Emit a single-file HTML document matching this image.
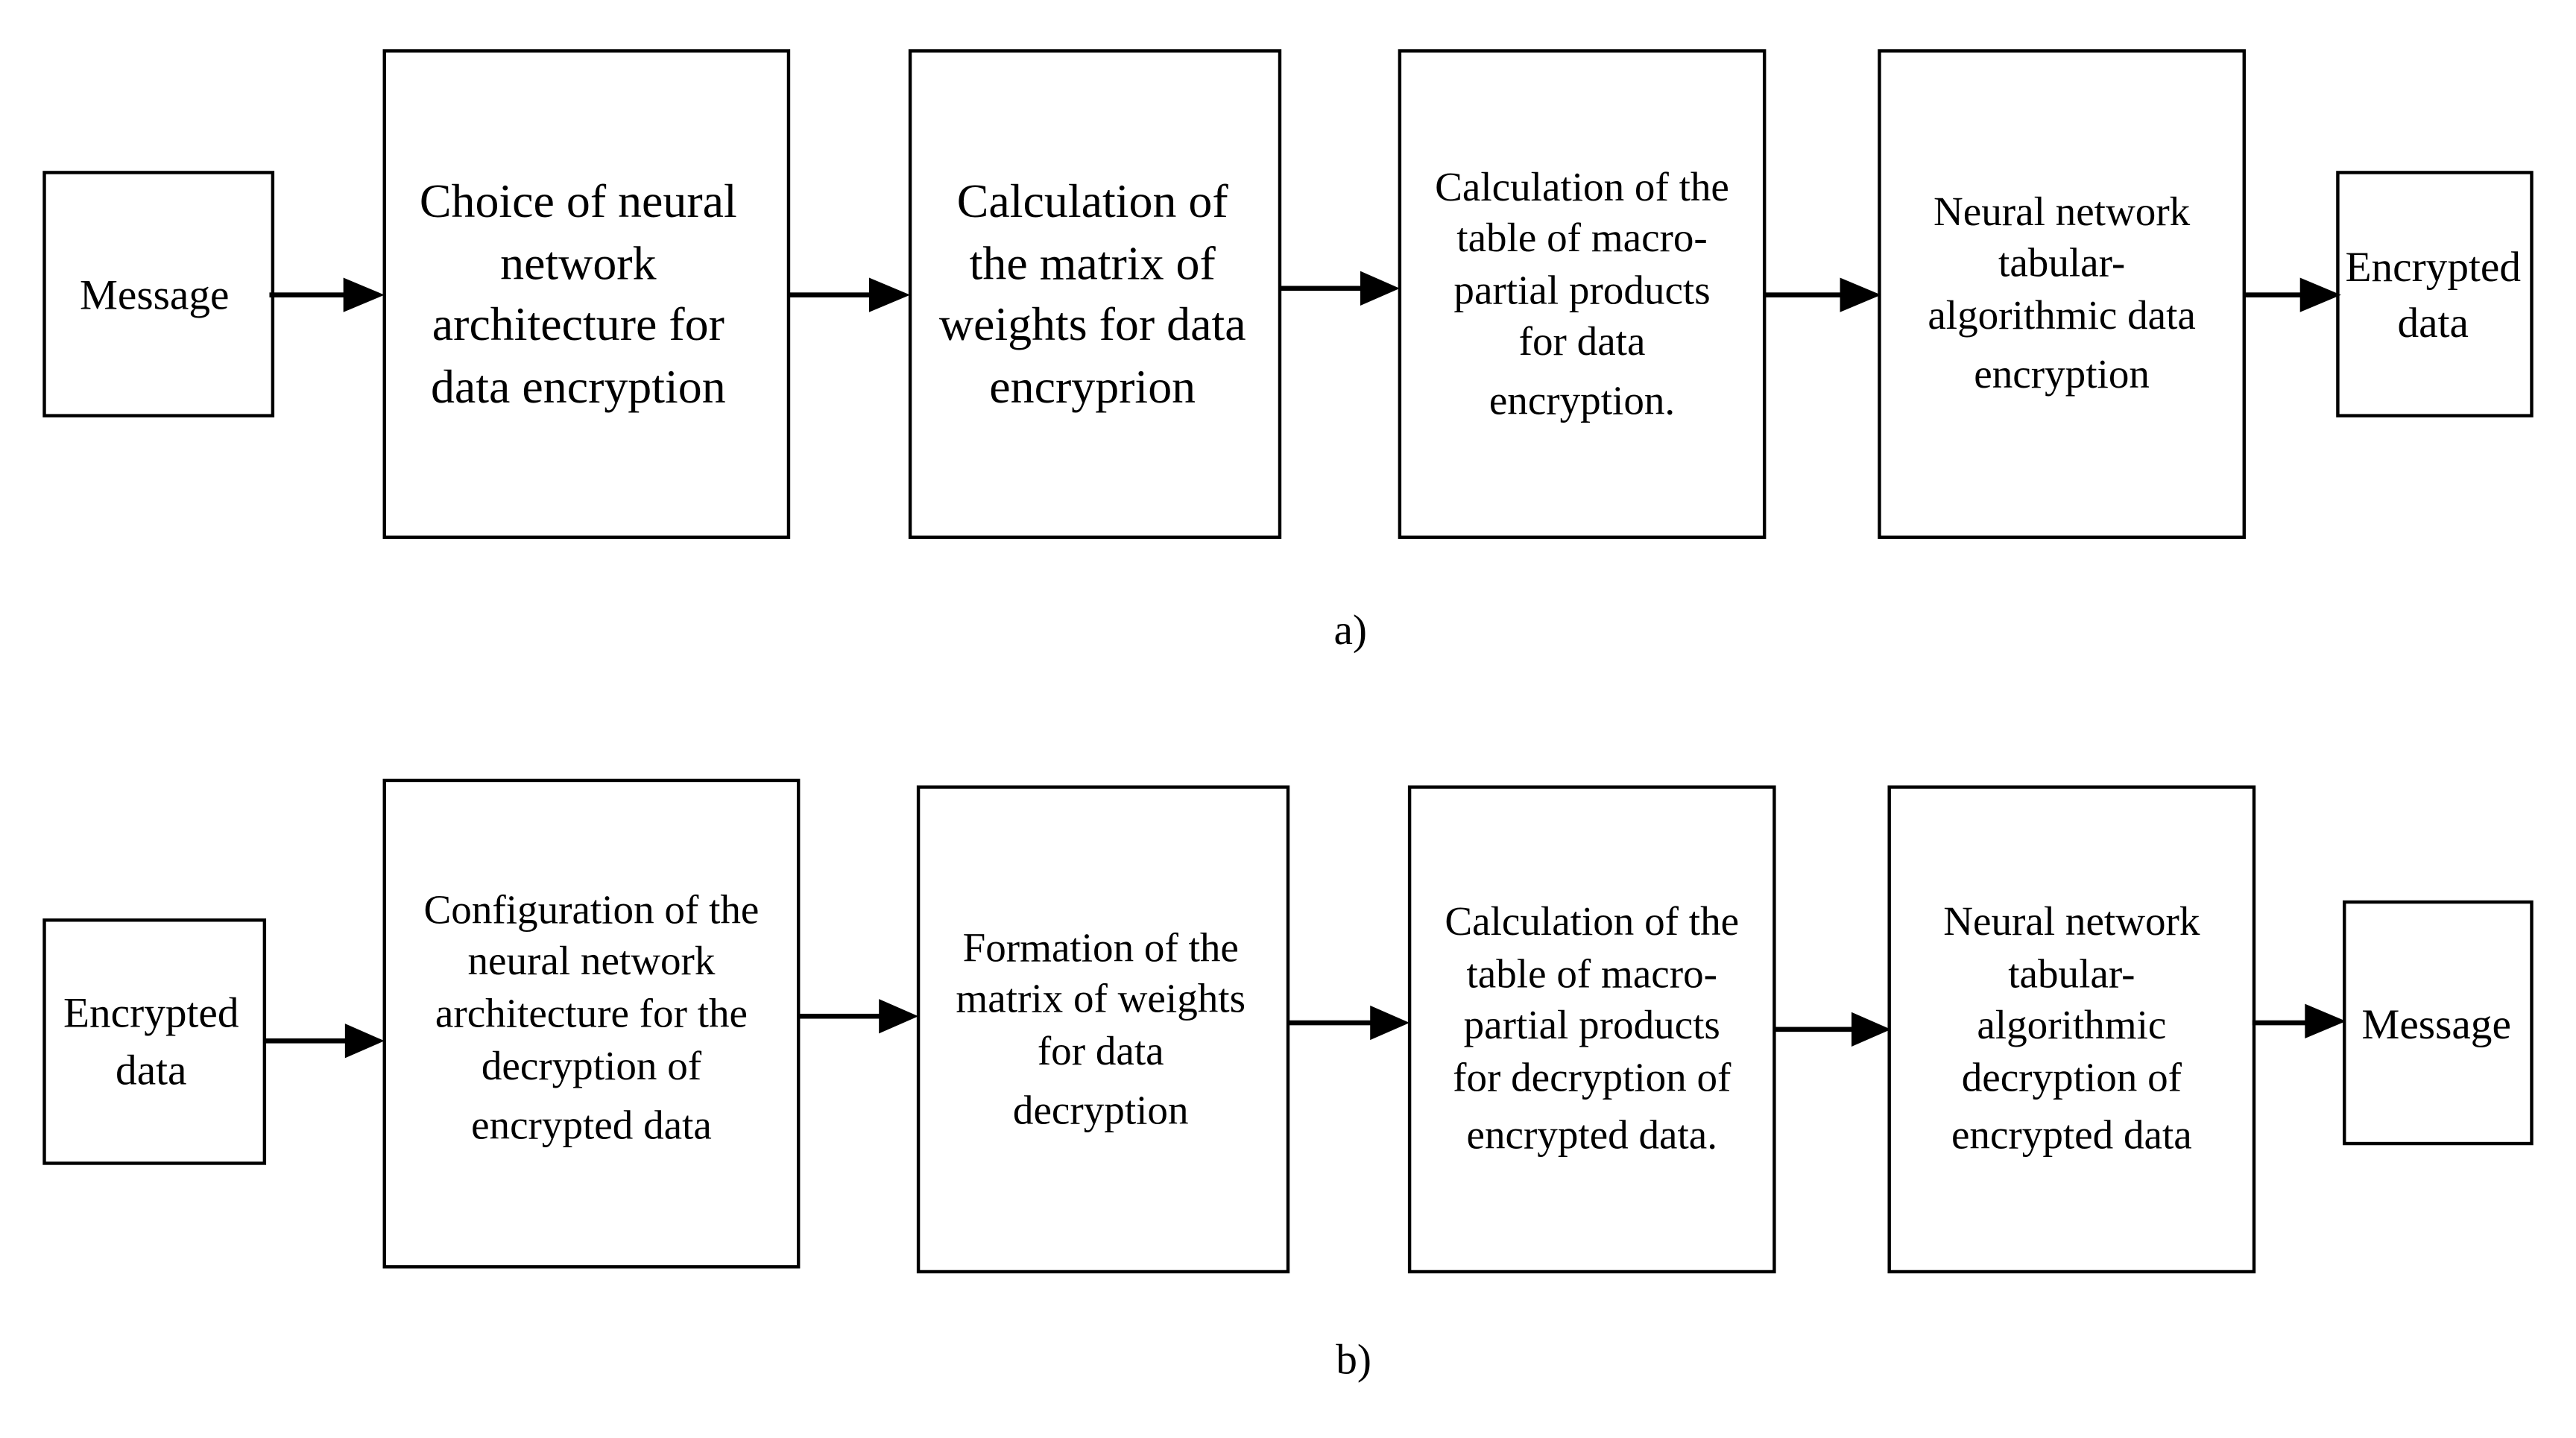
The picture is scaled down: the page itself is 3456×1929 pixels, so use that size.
<!DOCTYPE html>
<html><head><meta charset="utf-8"><style>
html,body{margin:0;padding:0;background:#fff;}
svg{display:block;}
text{font-family:"Liberation Serif",serif;fill:#000;text-anchor:middle;}
</style></head><body>
<svg width="3456" height="1929" viewBox="0 0 1568 875.2" preserveAspectRatio="none" xmlns="http://www.w3.org/2000/svg">
<g fill="none" stroke="#000" stroke-width="2">
<rect x="27" y="105" width="139" height="148"/>
<rect x="234" y="31" width="246" height="296"/>
<rect x="554" y="31" width="225" height="296"/>
<rect x="852" y="31" width="222" height="296"/>
<rect x="1144" y="31" width="222" height="296"/>
<rect x="1423" y="105" width="118" height="148"/>
<rect x="27" y="560" width="134" height="148"/>
<rect x="234" y="475" width="252" height="296"/>
<rect x="559" y="479" width="225" height="295"/>
<rect x="858" y="479" width="222" height="295"/>
<rect x="1150" y="479" width="222" height="295"/>
<rect x="1427" y="549" width="114" height="147"/>
</g>
<g fill="#000">
<rect x="164" y="178" width="46" height="3"/><path d="M209,169 L234,179.5 L209,190z"/>
<rect x="480" y="178" width="50" height="3"/><path d="M529,169 L554,179.5 L529,190z"/>
<rect x="779" y="174" width="50" height="3"/><path d="M828,165 L852,175.5 L828,186z"/>
<rect x="1074" y="178" width="47" height="3"/><path d="M1120,169 L1145,179.5 L1120,190z"/>
<rect x="1366" y="178" width="35" height="3"/><path d="M1400,169 L1425,179.5 L1400,190z"/>
<rect x="161" y="632" width="50" height="3"/><path d="M210,623 L234,633.5 L210,644z"/>
<rect x="486" y="617" width="50" height="3"/><path d="M535,608 L559,618.5 L535,629z"/>
<rect x="784" y="621" width="51" height="3"/><path d="M834,612 L858,622.5 L834,633z"/>
<rect x="1080" y="625" width="48" height="3"/><path d="M1127,616 L1151,626.5 L1127,637z"/>
<rect x="1371" y="621" width="33" height="3"/><path d="M1403,611 L1428,621.5 L1403,632z"/>
</g>
<g font-size="26">
<text x="94" y="188">Message</text>
<text x="1481" y="171">Encrypted</text><text x="1481" y="205">data</text>
<text x="92" y="625">Encrypted</text><text x="92" y="660">data</text>
<text x="1483" y="632">Message</text>
</g>
<g font-size="29">
<text x="352" y="132">Choice of neural</text>
<text x="352" y="170">network</text>
<text x="352" y="207">architecture for</text>
<text x="352" y="245">data encryption</text>
<text x="665" y="132">Calculation of</text>
<text x="665" y="170">the matrix of</text>
<text x="665" y="207">weights for data</text>
<text x="665" y="245">encryprion</text>
</g>
<g font-size="25">
<text x="963" y="122">Calculation of the</text>
<text x="963" y="153">table of macro-</text>
<text x="963" y="185">partial products</text>
<text x="963" y="216">for data</text>
<text x="963" y="252">encryption.</text>
<text x="1255" y="137">Neural network</text>
<text x="1255" y="168">tabular-</text>
<text x="1255" y="200">algorithmic data</text>
<text x="1255" y="236">encryption</text>
<text x="360" y="562">Configuration of the</text>
<text x="360" y="593">neural network</text>
<text x="360" y="625">architecture for the</text>
<text x="360" y="657">decryption of</text>
<text x="360" y="693">encrypted data</text>
<text x="670" y="585">Formation of the</text>
<text x="670" y="616">matrix of weights</text>
<text x="670" y="648">for data</text>
<text x="670" y="684">decryption</text>
<text x="969" y="569">Calculation of the</text>
<text x="969" y="601">table of macro-</text>
<text x="969" y="632">partial products</text>
<text x="969" y="664">for decryption of</text>
<text x="969" y="699">encrypted data.</text>
<text x="1261" y="569">Neural network</text>
<text x="1261" y="601">tabular-</text>
<text x="1261" y="632">algorithmic</text>
<text x="1261" y="664">decryption of</text>
<text x="1261" y="699">encrypted data</text>
</g>
<g font-size="26">
<text x="822" y="392">a)</text>
<text x="824" y="836">b)</text>
</g>
</svg>
</body></html>
